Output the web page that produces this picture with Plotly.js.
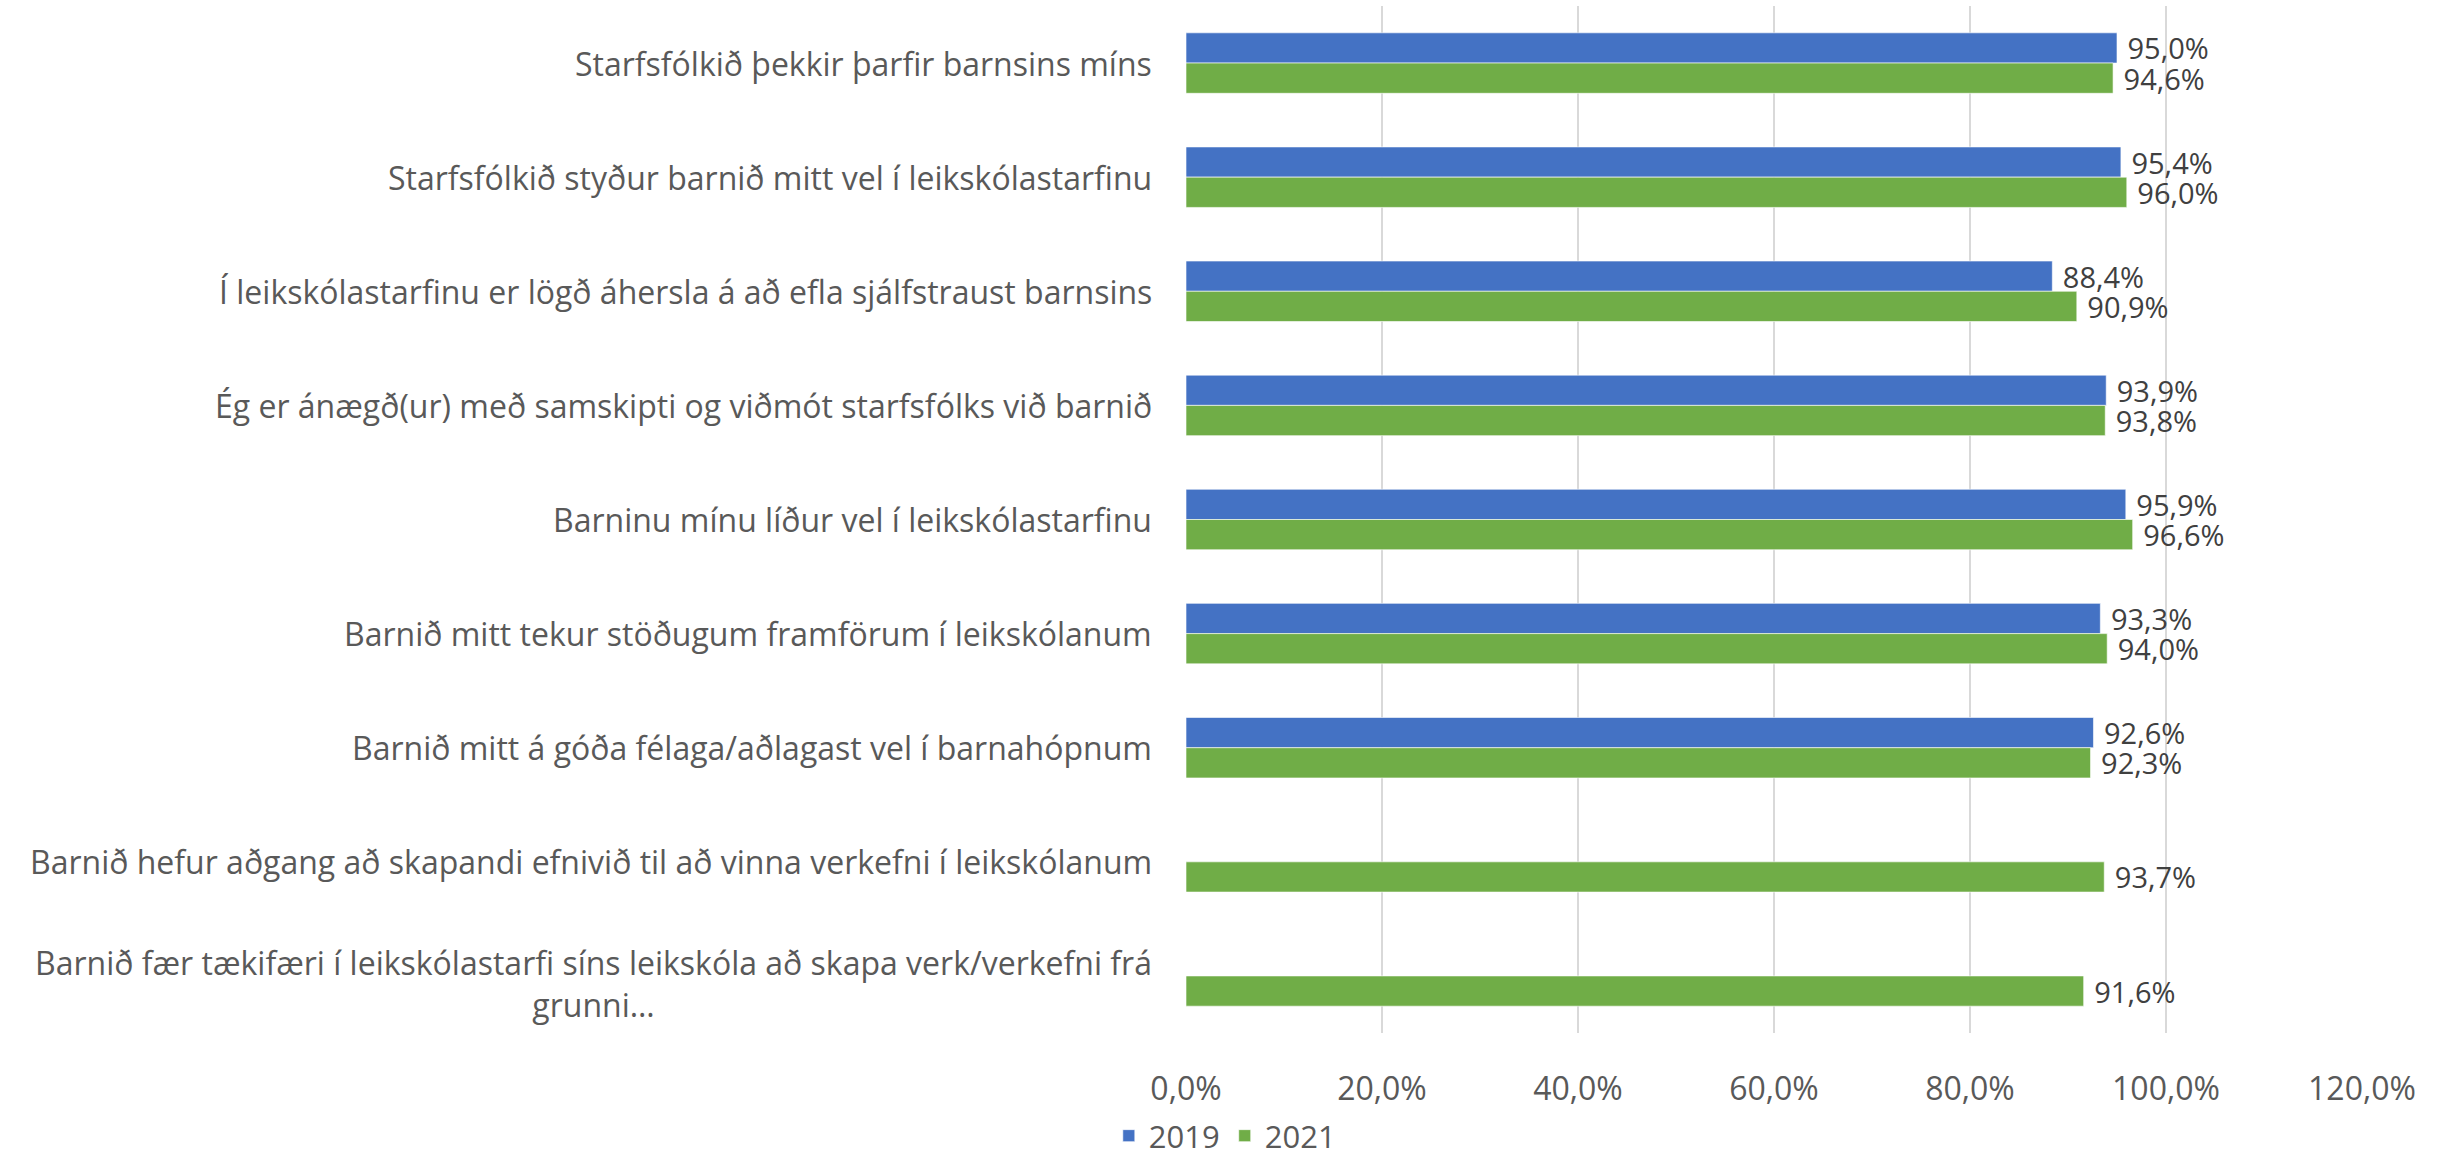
<!DOCTYPE html>
<html>
<head>
<meta charset="utf-8">
<script src="https://cdn.plot.ly/plotly-3.0.1.min.js"></script>
<style>html,body{margin:0;padding:0;background:#fff;}#chart{width:2451px;height:1163px;}</style>
</head>
<body>
<div id="chart"></div>
<script>
const categories = [
  "Starfsfólkið þekkir þarfir barnsins míns",
  "Starfsfólkið styður barnið mitt vel í leikskólastarfinu",
  "Í leikskólastarfinu er lögð áhersla á að efla sjálfstraust barnsins",
  "Ég er ánægð(ur) með samskipti og viðmót starfsfólks við barnið",
  "Barninu mínu líður vel í leikskólastarfinu",
  "Barnið mitt tekur stöðugum framförum í leikskólanum",
  "Barnið mitt á góða félaga/aðlagast vel í barnahópnum",
  "Barnið hefur aðgang að skapandi efnivið til að vinna verkefni í leikskólanum",
  "Barnið fær tækifæri í leikskólastarfi síns leikskóla að skapa verk/verkefni frá<br>grunni…"
];
const values2019 = [95.0, 95.4, 88.4, 93.9, 95.9, 93.3, 92.6, null, null];
const values2021 = [94.6, 96.0, 90.9, 93.8, 96.6, 94.0, 92.3, 93.7, 91.6];
const seriesNames = ["2019", "2021"];
const xTicks = [0, 20, 40, 60, 80, 100, 120];

const FONT = "'Open Sans', 'Noto Sans', sans-serif";
const colors = ["#4472C4", "#70AD47"];

function mk(name, vals, color) {
  return {
    type: "bar", orientation: "h", name: name,
    y: categories, x: vals,
    marker: {color: color, line: {color: "rgba(255,255,255,0.6)", width: 1}},
    texttemplate: "\u00a0%{x:.1f}%", textposition: "outside", cliponaxis: false,
    constraintext: "none",
    textfont: {family: FONT, size: 29, color: "#404040"},
    hoverinfo: "skip"
  };
}

const traces = [mk(seriesNames[0], values2019, colors[0]), mk(seriesNames[1], values2021, colors[1])];

const annotations = categories.map((c, i) => ({
  xref: "paper", yref: "y", x: 0, y: c, xanchor: "right", yanchor: "middle",
  xshift: -32, yshift: (i === categories.length - 1) ? -8 : 0,
  text: c, showarrow: false, align: "center",
  font: {family: FONT, size: 32, color: "#595959"}
}));

const layout = {
  width: 2451, height: 1163,
  margin: {l: 1186, r: 89, t: 6, b: 130},
  paper_bgcolor: "#fff", plot_bgcolor: "#fff",
  separators: ",.",
  barmode: "group", bargap: 0.47, bargroupgap: 0,
  showlegend: true,
  legend: {orientation: "h", x: 0.033, xanchor: "center", yref: "container", y: -0.006, yanchor: "bottom",
    font: {family: FONT, size: 31, color: "#595959"}, traceorder: "normal"},
  xaxis: {range: [0, 120], tickvals: xTicks, ticktext: xTicks.map(v => v.toFixed(1).replace(".", ",") + "%"),
    showgrid: true, gridcolor: "#D9D9D9", gridwidth: 2, zeroline: false, showline: false,
    ticks: "", ticklabelstandoff: 34, fixedrange: true, automargin: false,
    tickfont: {family: FONT, size: 32, color: "#595959"}},
  yaxis: {type: "category", autorange: "reversed", showticklabels: false, showgrid: false,
    zeroline: false, showline: false, ticks: "", automargin: false},
  annotations: annotations
};

Plotly.newPlot("chart", traces, layout, {displayModeBar: false, staticPlot: true});
</script>
</body>
</html>
